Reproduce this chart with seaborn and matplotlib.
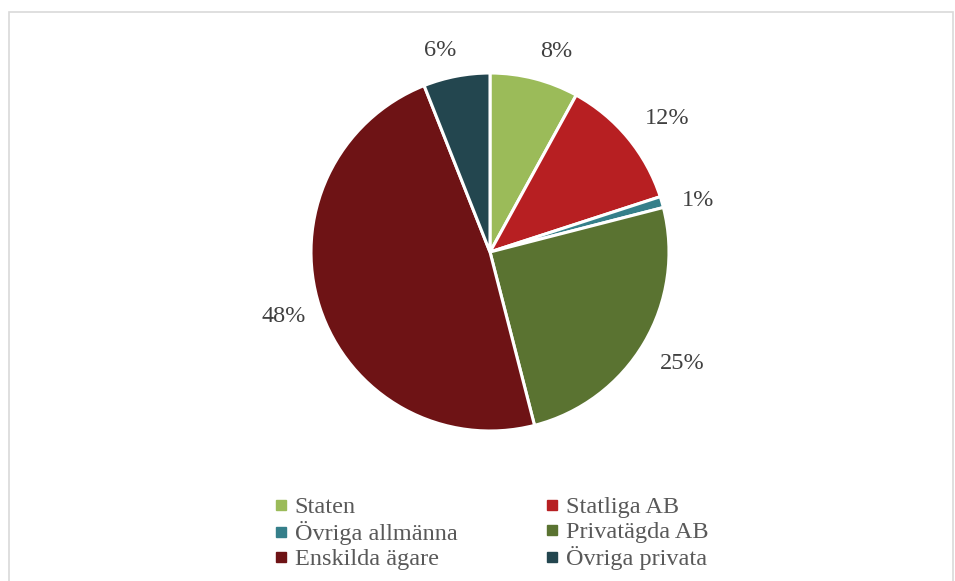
import matplotlib
matplotlib.use("Agg")
import numpy as np
import matplotlib.pyplot as plt
import seaborn as sns
from matplotlib.patches import Rectangle
from matplotlib.lines import Line2D

sns.set_theme(style="white")
plt.rcParams['font.family'] = ['Liberation Serif', 'DejaVu Serif']

# Data
categories = ["Staten", "Statliga AB", "Övriga allmänna",
              "Privatägda AB", "Enskilda ägare", "Övriga privata"]
shares = [8, 12, 1, 25, 48, 6]
colors = ["#9BBB59", "#B71F22", "#357F8A", "#5A7331", "#6E1315", "#23464F"]

# label placement per slice: distance (x radius) and angle nudge (deg)
label_dist = [1.18, 1.24, 1.20, 1.24, 1.21, 1.16]
label_turn = [-3.9, -2.7, -2.2, 0.4, -0.7, 3.0]

W, H = 955, 581
fig = plt.figure(figsize=(W / 100, H / 100), dpi=100)

# light frame around the chart area
fig.patches.append(Rectangle((9 / W, -0.05), (953 - 9) / W, 1.05 - 12 / H,
                             transform=fig.transFigure, fill=False,
                             edgecolor="#D9D9D9", linewidth=1.2))

cx, cy, r = 490, H - 252, 179
span = r * 1.25
ax = fig.add_axes([(cx - span) / W, (cy - span) / H, 2 * span / W, 2 * span / H])

wedges, texts = ax.pie(shares, colors=colors, startangle=90, counterclock=False,
                       wedgeprops=dict(edgecolor="white", linewidth=2.2))
ax.set_xlim(-1.25, 1.25)
ax.set_ylim(-1.25, 1.25)
ax.set_aspect("equal")
ax.axis("off")

for w, val, d, t in zip(wedges, shares, label_dist, label_turn):
    ang = np.deg2rad((w.theta1 + w.theta2) / 2 + t)
    ax.text(d * np.cos(ang), d * np.sin(ang), f"{val}%", ha="center", va="center",
            fontsize=17.5, color="#404040")

# legend filled row by row like the original (matplotlib fills by column)
order = [0, 2, 4, 1, 3, 5]
handles = [Line2D([], [], marker="s", linestyle="none", markersize=7,
                  markerfacecolor=colors[i], markeredgecolor=colors[i]) for i in order]
labels = [categories[i] for i in order]
fig.legend(handles, labels, loc="lower left", bbox_to_anchor=(262 / W, 1 / H),
           ncol=2, frameon=False, fontsize=17.5, labelcolor="#595959",
           handletextpad=0.15, handlelength=0.8, columnspacing=3.5,
           labelspacing=0.12, borderaxespad=0)

fig.savefig("out.png", dpi=100, facecolor="white")
